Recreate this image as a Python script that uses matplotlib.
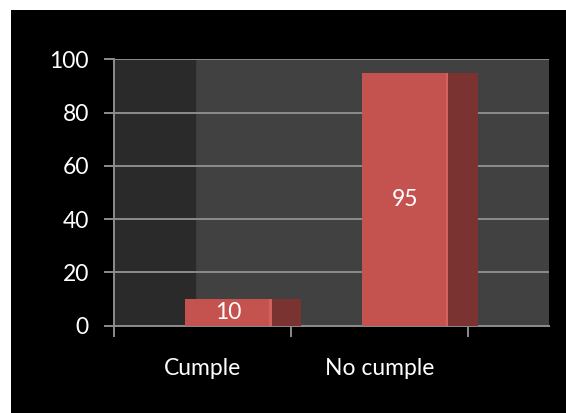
import matplotlib.pyplot as plt
from matplotlib.patches import Rectangle

categories = ["Cumple", "No cumple"]
values = [10, 95]
y_ticks = [0, 20, 40, 60, 80, 100]

plt.rcParams['font.family'] = ['Lato', 'DejaVu Sans']

fig = plt.figure(figsize=(5.66, 4.13), dpi=100, facecolor='white')
# black slide background (white strip left and top)
fig.patches.append(Rectangle((11 / 566, 0), 1, (413 - 10) / 413, transform=fig.transFigure,
                             facecolor='black', edgecolor='none', zorder=-10))

ax = fig.add_axes([114 / 566, 1 - 325.7 / 413, (549 - 114) / 566, (325.7 - 59.3) / 413])
ax.set_facecolor('#414141')
ax.set_xlim(0, 2.458)
ax.set_ylim(0, 100)

# darker side wall on the left
ax.axvspan(0, 0.458, color='#2a2a2a', zorder=0)

for y in y_ticks:
    ax.axhline(y, color='#8c8c8c', lw=1.4, zorder=1)

front_off = -0.1
front_w = 0.49
side_w = 0.165
for i, (cat, v) in enumerate(zip(categories, values)):
    c = i + 0.5
    x0 = c + front_off
    ax.bar(x0, v, width=front_w, align='edge', color='#c4534f', zorder=3)
    ax.bar(x0 + front_w - 0.015, v, width=0.015, align='edge', color='#d3625d', zorder=3)
    ax.bar(x0 + front_w, v, width=side_w, align='edge', color='#7b3331', zorder=3)
    ax.text(x0 + front_w / 2, v / 2, str(v), color='white', fontsize=16.5,
            ha='center', va='center', zorder=4)

for s in ['top', 'right']:
    ax.spines[s].set_visible(False)
for s in ['left', 'bottom']:
    ax.spines[s].set_color('#8c8c8c')
    ax.spines[s].set_linewidth(1.4)

ax.set_yticks(y_ticks)
ax.set_xticks([0, 1, 2])
ax.set_xticklabels([])
ax.set_xticks([0.5, 1.5], minor=True)
ax.set_xticklabels(categories, minor=True)
ax.tick_params(axis='x', which='minor', length=0, pad=23, labelsize=16.5, labelcolor='white')
ax.tick_params(axis='x', which='major', length=8, width=1.4, color='#8c8c8c')
ax.tick_params(axis='y', length=7, width=1.4, color='#8c8c8c', pad=11,
               labelsize=16.5, labelcolor='white')

fig.savefig('out.png', dpi=100, facecolor='white')
